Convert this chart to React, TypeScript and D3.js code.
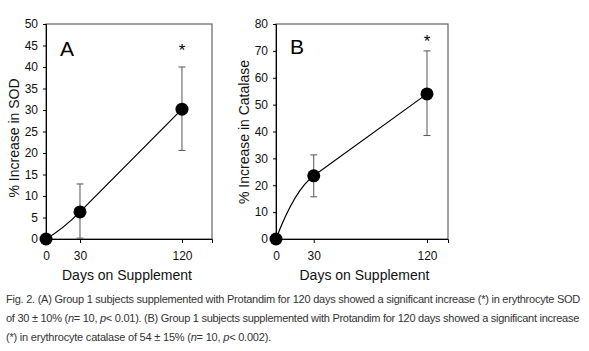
import { useEffect, useRef } from "react";
import * as d3 from "d3";

// days on supplement
const days = [0, 30, 120];

// panel A: % increase in SOD
const sodMean = [0, 6.3, 30.2];
const sodLow = [0, 0.2, 20.6];
const sodHigh = [0, 12.8, 40];
const sodTicks = [0, 5, 10, 15, 20, 25, 30, 35, 40, 45, 50];

// panel B: % increase in catalase
const catMean = [0, 23.5, 54];
const catLow = [0, 15.7, 38.5];
const catHigh = [0, 31.3, 70];
const catTicks = [0, 10, 20, 30, 40, 50, 60, 70, 80];

const captionLines = [
  "Fig. 2. (A) Group 1 subjects supplemented with Protandim for 120 days showed a significant increase (*) in erythrocyte SOD",
  "of 30 \u00b1 10% (|n|= 10, |p|< 0.01). (B) Group 1 subjects supplemented with Protandim for 120 days showed a significant increase",
  "(*) in erythrocyte catalase of 54 \u00b1 15% (|n|= 10, |p|< 0.002).",
];

const FONT = "Liberation Sans, Arial, sans-serif";

export default function App() {
  const ref = useRef<SVGSVGElement>(null);

  useEffect(() => {
    const svg = d3.select(ref.current);
    svg.selectAll("*").remove();

    const drawPanel = (opts: any) => {
      const { left, right, top, bottom, xMax, yMax, ticks, mean, low, high, letter, letterY, starValue, title, titleY } = opts;
      const x = d3.scaleLinear().domain([0, xMax]).range([left, right]);
      const y = d3.scaleLinear().domain([0, yMax]).range([bottom, top]);
      const g = svg.append("g");

      // frame
      g.append("rect")
        .attr("x", left)
        .attr("y", top)
        .attr("width", right - left)
        .attr("height", bottom - top)
        .attr("fill", "none")
        .attr("stroke", "#444")
        .attr("stroke-width", 1);

      const yAxis = g
        .append("g")
        .attr("transform", `translate(${left},0)`)
        .call(d3.axisLeft(y).tickValues(ticks).tickSize(3).tickPadding(5).tickFormat(d3.format("d")));
      const xAxis = g
        .append("g")
        .attr("transform", `translate(0,${bottom})`)
        .call(d3.axisBottom(x).tickValues(days).tickSize(4).tickPadding(8).tickFormat(d3.format("d")));
      [yAxis, xAxis].forEach((a) => {
        a.select(".domain").attr("stroke", "#000");
        a.selectAll("line").attr("stroke", "#000");
        a.selectAll("text").attr("font-family", FONT).attr("font-size", 12).attr("fill", "#111");
      });

      // error bars
      days.forEach((d, i) => {
        if (high[i] === low[i]) return;
        const cx = x(d);
        g.append("line").attr("x1", cx).attr("x2", cx).attr("y1", y(low[i])).attr("y2", y(high[i])).attr("stroke", "#555");
        [low[i], high[i]].forEach((v) =>
          g.append("line").attr("x1", cx - 3.5).attr("x2", cx + 3.5).attr("y1", y(v)).attr("y2", y(v)).attr("stroke", "#555")
        );
      });

      // smoothed first segment (hermite, end slope matched to the next segment), then straight
      const s1 = (mean[1] - mean[0]) / (days[1] - days[0]);
      const s2 = (mean[2] - mean[1]) / (days[2] - days[1]);
      const m1 = s2;
      const m0 = 2 * s1 - m1;
      const h = (days[1] - days[0]) / 3;
      const p = d3.path();
      p.moveTo(x(days[0]), y(mean[0]));
      p.bezierCurveTo(
        x(days[0] + h), y(mean[0] + m0 * h),
        x(days[1] - h), y(mean[1] - m1 * h),
        x(days[1]), y(mean[1])
      );
      p.lineTo(x(days[2]), y(mean[2]));
      g.append("path").attr("d", p.toString()).attr("fill", "none").attr("stroke", "#000").attr("stroke-width", 1.2);

      g.selectAll(".pt")
        .data(mean)
        .enter()
        .append("circle")
        .attr("cx", (_, i) => x(days[i]))
        .attr("cy", (v) => y(v))
        .attr("r", 6.5)
        .attr("fill", "#000");

      g.append("text")
        .attr("x", left + 14)
        .attr("y", letterY)
        .attr("font-family", FONT)
        .attr("font-size", 21)
        .text(letter);

      g.append("text")
        .attr("x", x(120))
        .attr("y", y(starValue) + 10)
        .attr("text-anchor", "middle")
        .attr("font-family", FONT)
        .attr("font-size", 17)
        .text("*");

      g.append("text")
        .attr("x", (x(0) + x(120)) / 2 + 13)
        .attr("y", 280)
        .attr("text-anchor", "middle")
        .attr("font-family", FONT)
        .attr("font-size", 14)
        .attr("fill", "#111")
        .text("Days on Supplement");

      g.append("text")
        .attr("transform", `translate(${left - 27},${titleY}) rotate(-90)`)
        .attr("text-anchor", "middle")
        .attr("font-family", FONT)
        .attr("font-size", 14)
        .attr("fill", "#111")
        .text(title);
    };

    drawPanel({
      left: 46, right: 212, top: 24, bottom: 239, xMax: 146.5, yMax: 50,
      ticks: sodTicks, mean: sodMean, low: sodLow, high: sodHigh,
      letter: "A", letterY: 56, starValue: 45, title: "% Increase in SOD", titleY: 138,
    });
    drawPanel({
      left: 276, right: 448, top: 24, bottom: 239, xMax: 136.7, yMax: 80,
      ticks: catTicks, mean: catMean, low: catLow, high: catHigh,
      letter: "B", letterY: 54, starValue: 75, title: "% Increase in Catalase", titleY: 132,
    });

    // caption: squeeze letter spacing so each line ends where the reference does
    const widths = [574, 573, 265];
    const baselines = [303, 322, 341];
    captionLines.forEach((ln, i) => {
      const t = svg
        .append("text")
        .attr("x", 6)
        .attr("y", baselines[i])
        .attr("font-family", FONT)
        .attr("font-size", 11)
        .attr("fill", "#333");
      ln.split("|").forEach((part, j) => {
        t.append("tspan").attr("font-style", j % 2 ? "italic" : "normal").text(part);
      });
      const node = t.node() as SVGTextElement;
      const natural = node.getComputedTextLength();
      const chars = ln.replace(/\|/g, "").length;
      t.attr("letter-spacing", ((widths[i] - natural) / chars).toFixed(3));
    });
  }, []);

  return (
    <svg
      ref={ref}
      width={589}
      height={351}
      style={{ position: "absolute", left: 0, top: 0, background: "#fff" }}
    />
  );
}
